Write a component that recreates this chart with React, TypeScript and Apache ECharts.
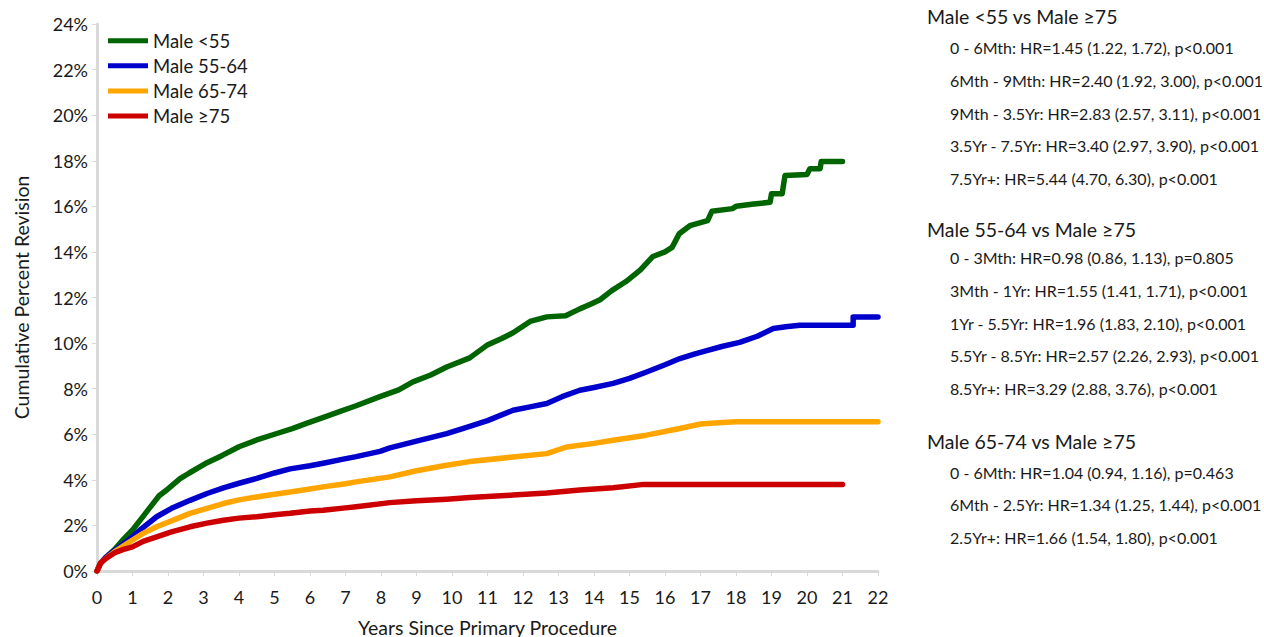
import React, { useEffect, useRef } from "react";
import * as echarts from "echarts";

const seriesNames = ["Male <55", "Male 55-64", "Male 65-74", "Male \u226575"];
const seriesColors = ["#006400", "#0000cc", "#ffa500", "#cc0000"];

const male_lt55: [number, number][] = [
  [0, 0], [0.1, 0.35], [0.25, 0.6], [0.5, 0.95], [0.75, 1.4], [1, 1.8], [1.25, 2.3], [1.5, 2.8], [1.75, 3.3], [2, 3.6],
  [2.34, 4.05], [2.6, 4.3], [3.1, 4.75], [3.5, 5.05], [4, 5.45], [4.5, 5.75], [5, 6.0], [5.5, 6.25], [5.9, 6.48],
  [6.4, 6.75], [6.85, 7.0], [7.3, 7.25], [7.97, 7.65], [8.5, 7.95], [8.9, 8.3], [9.4, 8.6], [9.85, 8.95], [10.5, 9.35],
  [10.98, 9.9], [11.4, 10.2], [11.72, 10.45], [12.2, 10.95], [12.67, 11.15], [13.2, 11.2], [13.6, 11.5], [13.9, 11.7],
  [14.17, 11.9], [14.5, 12.3], [14.9, 12.7], [15.3, 13.2], [15.66, 13.8], [16.0, 14.0], [16.2, 14.2], [16.4, 14.8],
  [16.7, 15.15], [17.2, 15.37], [17.32, 15.78], [17.9, 15.9], [18.0, 16.0], [18.5, 16.1], [18.96, 16.18], [19.0, 16.55],
  [19.3, 16.55], [19.38, 17.35], [20.0, 17.4], [20.08, 17.65], [20.37, 17.65], [20.4, 17.97], [21.0, 17.97],
];

const male_55_64: [number, number][] = [
  [0, 0], [0.1, 0.35], [0.25, 0.6], [0.5, 0.9], [0.75, 1.2], [1, 1.5], [1.25, 1.85], [1.68, 2.38], [2.1, 2.75],
  [2.62, 3.1], [3.1, 3.4], [3.56, 3.65], [4, 3.85], [4.5, 4.06], [5, 4.3], [5.44, 4.48], [6, 4.62], [6.37, 4.73],
  [6.9, 4.9], [7.3, 5.02], [7.97, 5.25], [8.25, 5.4], [9, 5.7], [9.85, 6.03], [10.5, 6.35], [11.0, 6.6], [11.72, 7.05],
  [12.2, 7.2], [12.67, 7.35], [13.1, 7.65], [13.6, 7.93], [14.0, 8.05], [14.54, 8.23], [15.0, 8.45], [15.48, 8.73],
  [16.0, 9.05], [16.42, 9.32], [16.8, 9.5], [17.2, 9.68], [17.6, 9.85], [18.1, 10.03], [18.6, 10.3], [19.05, 10.64],
  [19.4, 10.72], [19.8, 10.78], [21.3, 10.78], [21.3, 11.14], [22, 11.14],
];

const male_65_74: [number, number][] = [
  [0, 0], [0.1, 0.35], [0.25, 0.55], [0.5, 0.85], [0.75, 1.1], [1, 1.36], [1.3, 1.65], [1.68, 1.94], [2.1, 2.2],
  [2.62, 2.53], [3.1, 2.75], [3.56, 2.96], [4, 3.12], [4.5, 3.25], [5, 3.37], [5.44, 3.47], [6, 3.6], [6.37, 3.69],
  [7, 3.83], [7.3, 3.91], [8.25, 4.13], [9, 4.4], [9.85, 4.64], [10.5, 4.8], [11.72, 5.0], [12.67, 5.15], [13.23, 5.44],
  [14.0, 5.6], [14.54, 5.74], [15.48, 5.96], [16.42, 6.25], [17.0, 6.45], [17.5, 6.5], [18.0, 6.55], [22, 6.55],
];

const male_ge75: [number, number][] = [
  [0, 0], [0.1, 0.35], [0.25, 0.55], [0.5, 0.8], [0.75, 0.95], [1, 1.06], [1.3, 1.3], [1.68, 1.5], [2.1, 1.72],
  [2.62, 1.94], [3.1, 2.1], [3.56, 2.23], [4, 2.32], [4.5, 2.38], [5, 2.47], [5.44, 2.53], [6, 2.63], [6.37, 2.67],
  [7, 2.77], [7.3, 2.82], [8.25, 3.0], [9, 3.08], [9.85, 3.15], [10.5, 3.22], [11.72, 3.33], [12.67, 3.42],
  [13.6, 3.55], [14.54, 3.65], [15.4, 3.8], [21, 3.8],
];

const seriesData = [male_lt55, male_55_64, male_65_74, male_ge75];

const hrHeaders = ["Male <55 vs Male \u226575", "Male 55-64 vs Male \u226575", "Male 65-74 vs Male \u226575"];
const hrGroups: string[][] = [
  [
    "0 - 6Mth: HR=1.45 (1.22, 1.72), p<0.001",
    "6Mth - 9Mth: HR=2.40 (1.92, 3.00), p<0.001",
    "9Mth - 3.5Yr: HR=2.83 (2.57, 3.11), p<0.001",
    "3.5Yr - 7.5Yr: HR=3.40 (2.97, 3.90), p<0.001",
    "7.5Yr+: HR=5.44 (4.70, 6.30), p<0.001",
  ],
  [
    "0 - 3Mth: HR=0.98 (0.86, 1.13), p=0.805",
    "3Mth - 1Yr: HR=1.55 (1.41, 1.71), p<0.001",
    "1Yr - 5.5Yr: HR=1.96 (1.83, 2.10), p<0.001",
    "5.5Yr - 8.5Yr: HR=2.57 (2.26, 2.93), p<0.001",
    "8.5Yr+: HR=3.29 (2.88, 3.76), p<0.001",
  ],
  [
    "0 - 6Mth: HR=1.04 (0.94, 1.16), p=0.463",
    "6Mth - 2.5Yr: HR=1.34 (1.25, 1.44), p<0.001",
    "2.5Yr+: HR=1.66 (1.54, 1.80), p<0.001",
  ],
];

const FONT = "Lato";

export default function App() {
  const ref = useRef<HTMLDivElement>(null);
  useEffect(() => {
    document.body.style.margin = "0";
    const chart = echarts.init(ref.current!, null, { renderer: "svg" });

    const graphics: any[] = [];
    const headerY = [16, 229.5, 441];
    const firstItemY = [47.5, 257.5, 472];
    const itemStep = 32.8;
    hrHeaders.forEach((h, gi) => {
      graphics.push({
        type: "text",
        x: 927,
        y: headerY[gi],
        style: { text: h, font: `19.5px ${FONT}`, fill: "#1a1a1a", verticalAlign: "middle", align: "left" },
      });
      hrGroups[gi].forEach((line, li) => {
        graphics.push({
          type: "text",
          x: 950,
          y: firstItemY[gi] + itemStep * li,
          style: { text: line, font: `16px ${FONT}`, fill: "#1a1a1a", verticalAlign: "middle", align: "left" },
        });
      });
    });

    chart.setOption({
      animation: false,
      textStyle: { fontFamily: FONT },
      grid: { left: 97, right: 386, top: 24, bottom: 66, containLabel: false, outerBoundsMode: "none" },
      legend: {
        left: 108,
        top: 30,
        padding: 0,
        orient: "vertical",
        icon: "rect",
        itemWidth: 40,
        itemHeight: 5,
        itemGap: 3.6,
        textStyle: { fontSize: 18.5, color: "#1a1a1a", fontFamily: FONT, lineHeight: 21.5 },
        data: seriesNames,
      },
      xAxis: {
        type: "value",
        min: 0,
        max: 22,
        interval: 1,
        name: "Years Since Primary Procedure",
        nameLocation: "middle",
        nameGap: 46,
        nameTextStyle: { fontSize: 19.5, color: "#1a1a1a", fontFamily: FONT },
        axisLine: { show: true, lineStyle: { color: "#d9d9d9", width: 3 } },
        axisTick: { show: true, length: 5, lineStyle: { color: "#d9d9d9", width: 1 } },
        axisLabel: { fontSize: 18, color: "#1a1a1a", margin: 17, fontFamily: FONT },
        splitLine: { show: false },
      },
      yAxis: {
        type: "value",
        min: 0,
        max: 24,
        interval: 2,
        name: "Cumulative Percent Revision",
        nameLocation: "middle",
        nameGap: 66,
        nameTextStyle: { fontSize: 19.5, color: "#1a1a1a", fontFamily: FONT },
        axisLine: { show: true, lineStyle: { color: "#d9d9d9", width: 3 } },
        axisTick: { show: true, length: 5, lineStyle: { color: "#d9d9d9", width: 1 } },
        axisLabel: { fontSize: 18, color: "#1a1a1a", margin: 9, formatter: "{value}%", fontFamily: FONT },
        splitLine: { show: false },
      },
      series: seriesNames.map((n, i) => ({
        name: n,
        type: "line",
        data: seriesData[i],
        showSymbol: false,
        symbol: "none",
        lineStyle: { width: 5.5, color: seriesColors[i], cap: "round", join: "round" },
        itemStyle: { color: seriesColors[i] },
        z: 2 + i,
      })),
      graphic: graphics,
    });
    return () => chart.dispose();
  }, []);
  return <div ref={ref} style={{ width: 1264, height: 637 }} />;
}
